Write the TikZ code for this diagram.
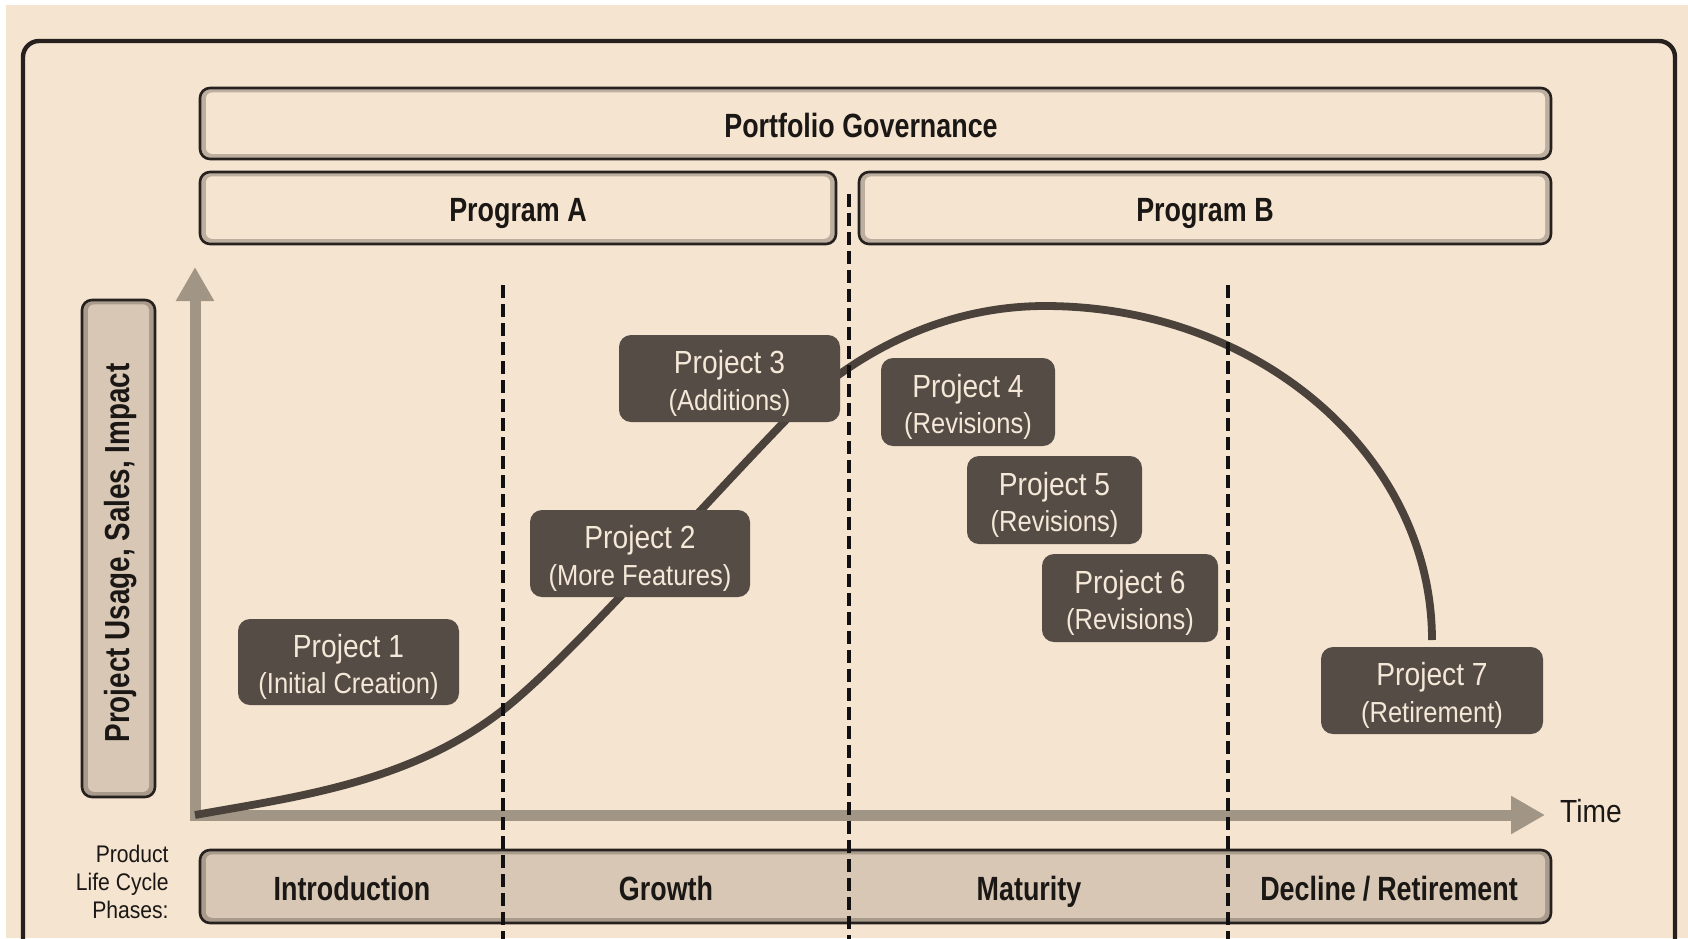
\documentclass[tikz,border=0pt]{standalone}
\usepackage{fontspec}
\setmainfont{Liberation Sans}[FakeStretch=0.88]
\newfontfamily\cbold{Liberation Sans}[FakeStretch=0.8]
\usetikzlibrary{arrows.meta}
\definecolor{bgbeige}{HTML}{F5E4D0}
\definecolor{bevlight}{HTML}{BDAF9F}
\definecolor{phasefill}{HTML}{D7C7B4}
\definecolor{bevdark}{HTML}{A99B8C}
\definecolor{outline}{HTML}{26211E}
\definecolor{textdark}{HTML}{1A1715}
\definecolor{axisgray}{HTML}{A19585}
\definecolor{projfill}{HTML}{554D45}
\definecolor{projtext}{HTML}{F5E8D8}
\definecolor{curvecol}{HTML}{4A423B}
\definecolor{dashcol}{HTML}{121010}
\tikzset{
  bevelbox/.style 2 args={draw=outline, line width=1.3pt, fill=#2, rounded corners=5pt, inner sep=0pt,
    path picture={\fill[#1, rounded corners=3pt]
      ([xshift=3pt,yshift=-2.2pt]path picture bounding box.north west) rectangle
      ([xshift=-3pt,yshift=2.6pt]path picture bounding box.south east);}},
  lightbox/.style={bevelbox={bgbeige}{bevlight}},
  darkbox/.style={bevelbox={phasefill}{bevdark}},
  boldlabel/.style={font=\cbold\bfseries\fontsize{16.8}{20}\selectfont, text=textdark, inner sep=0pt},
  projbox/.style={fill=projfill, rounded corners=6pt, inner sep=0pt, text=projtext, align=center,
    font=\fontsize{16}{18.25}\selectfont},
  axisline/.style={draw=axisgray, line width=5.5pt, line join=miter,
    {Triangle[length=17pt,width=18pt]}-{Triangle[length=17pt,width=18pt]}},
  lifecurve/.style={draw=curvecol, line width=3.9pt, line cap=butt},
  phasedash/.style={draw=dashcol, line width=2.4pt, dash pattern=on 6.5pt off 3pt},
}
\newcommand{\sub}[1]{{\fontsize{14.5}{18.25}\selectfont #1}}
\newcommand{\topstrut}{\rule{0pt}{16.25pt}}
\begin{document}
\begin{tikzpicture}[x=0.5pt,y=-0.5pt]
\useasboundingbox (0,0) rectangle (1688,938);
\clip (0,0) rectangle (1688,938);
\fill[white] (0,0) rectangle (1688,938);
\fill[bgbeige] (6,5) rectangle (1688,938);
% outer frame
\draw[outline, line width=2.2pt, rounded corners=8pt] (23,980) -- (23,41) -- (1675,41) -- (1675,980);

% governance and programs
\node[lightbox, minimum width=675.5pt, minimum height=35.5pt] (gov) at (875.5,123.5) {};
\node[boldlabel, anchor=base] (govt) at (861,137) {Portfolio Governance};
\node[lightbox, minimum width=318pt, minimum height=36pt] (progA) at (518,208) {};
\node[boldlabel, anchor=base] (progAt) at (518,221.5) {Program A};
\node[lightbox, minimum width=346pt, minimum height=36pt] (progB) at (1205,208) {};
\node[boldlabel, anchor=base] (progBt) at (1205,221.5) {Program B};

% y label box
\node[darkbox, minimum width=36.5pt, minimum height=248.5pt] (ylab) at (118.5,548.5) {};
\node[boldlabel, rotate=90, font=\cbold\bfseries\fontsize{17.4}{20}\selectfont] (ylabt) at (121,553) {Project Usage, Sales, Impact};

% phase bar
\node[darkbox, minimum width=675.5pt, minimum height=36.5pt] (phases) at (875.5,886.5) {};

% axes
\coordinate (ytip) at (195,267);
\coordinate (origin) at (195,815);
\coordinate (xtip) at (1545,815);
\draw[axisline] (ytip) -- (origin) -- (xtip);

% life cycle curve
\coordinate (c0) at (195,815);
\coordinate (c1) at (503,710);
\coordinate (c2) at (784,422);
\coordinate (c3) at (1045,306);
\coordinate (c4) at (1432,640);
\draw[lifecurve] (c0) .. controls (295,797) and (410,783) .. (c1)
  .. controls (570,657) and (680,530) .. (c2)
  .. controls (834,370) and (925,306) .. (c3)
  .. controls (1258.7,306) and (1432,455.5) .. (c4);

% projects
\node[projbox, minimum width=110.5pt, minimum height=43pt] (p1) at (348.5,662) {\topstrut Project 1\\\sub{(Initial Creation)}};
\node[projbox, minimum width=110pt, minimum height=43.5pt] (p2) at (640,553.5) {\topstrut Project 2\\\sub{(More Features)}};
\node[projbox, minimum width=110.5pt, minimum height=43.5pt] (p3) at (729.5,378.5) {\topstrut Project 3\\\sub{(Additions)}};
\node[projbox, minimum width=87pt, minimum height=44pt] (p4) at (968,402) {\topstrut Project 4\\\sub{(Revisions)}};
\node[projbox, minimum width=87.5pt, minimum height=44pt] (p5) at (1054.5,500) {\topstrut Project 5\\\sub{(Revisions)}};
\node[projbox, minimum width=88pt, minimum height=44pt] (p6) at (1130,598) {\topstrut Project 6\\\sub{(Revisions)}};
\node[projbox, minimum width=111pt, minimum height=43.5pt] (p7) at (1432,690.5) {\topstrut Project 7\\\sub{(Retirement)}};

% phase dividers
\draw[phasedash] (503,285) -- (503,945);
\draw[phasedash] (849,194) -- (849,945);
\draw[phasedash] (1228,285) -- (1228,945);

% phase labels
\node[boldlabel, anchor=base] (ph1) at (352,900) {Introduction};
\node[boldlabel, anchor=base] (ph2) at (666,900) {Growth};
\node[boldlabel, anchor=base] (ph3) at (1029,900) {Maturity};
\node[boldlabel, anchor=base] (ph4) at (1389,900) {Decline\hspace{3.5pt}/\hspace{3.5pt}Retirement};

% other labels
\node[anchor=base, text=textdark, inner sep=0pt, font=\fontsize{16}{19}\selectfont] (time) at (1591,822) {Time};
\node[anchor=east, align=right, text=textdark, inner sep=0pt, font=\fontsize{12}{14}\selectfont] (plc) at (169,882) {Product\\Life Cycle\\Phases:};
\end{tikzpicture}
\end{document}
